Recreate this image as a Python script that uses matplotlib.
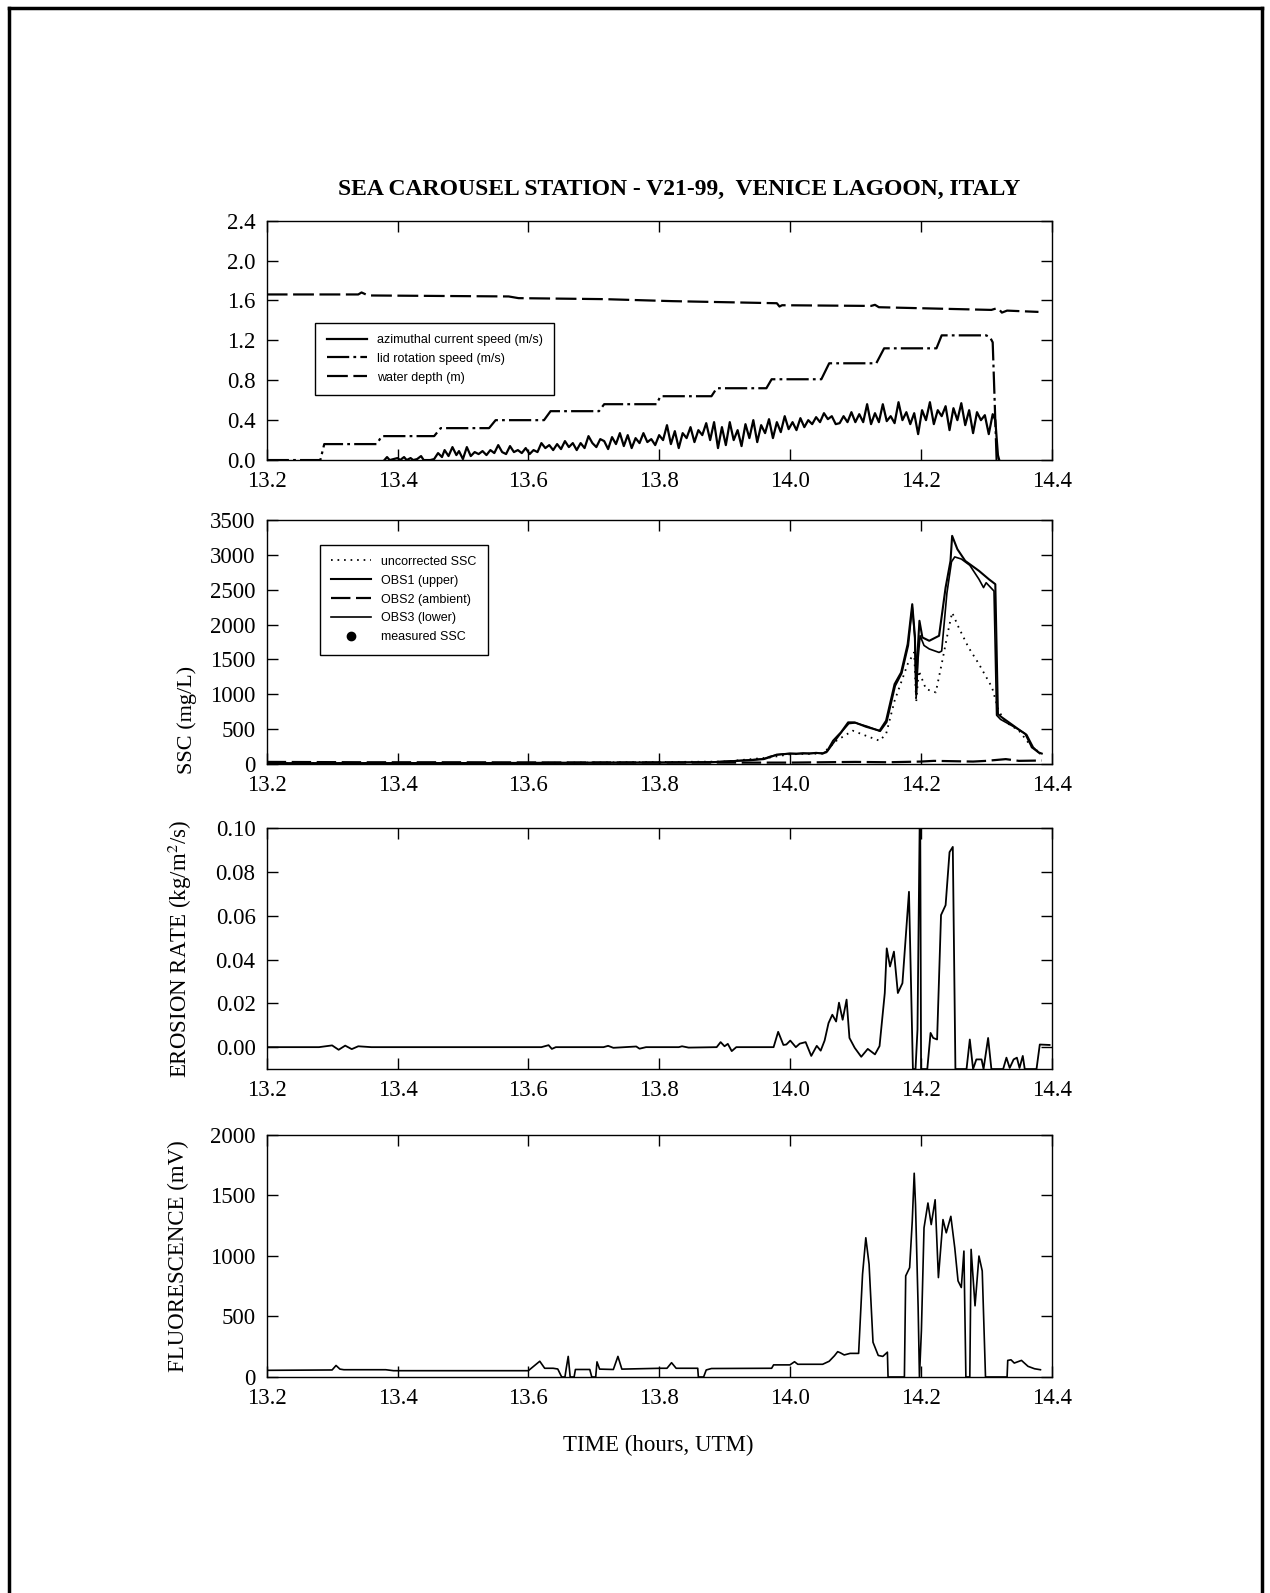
import matplotlib
matplotlib.use("Agg")
import matplotlib.pyplot as plt
from matplotlib.lines import Line2D
from matplotlib.ticker import FormatStrFormatter, MultipleLocator
import numpy as np

plt.rcParams['font.family'] = ['Liberation Serif', 'DejaVu Serif']
plt.rcParams['mathtext.fontset'] = 'stix'
plt.rcParams['lines.scale_dashes'] = False

# ---- panel 1: speeds and depth ----
t_depth = [13.20, 13.34, 13.345, 13.355, 13.57, 13.585, 13.716, 13.82, 13.98, 13.984,
           13.988, 14.124, 14.130, 14.136, 14.308, 14.318, 14.324, 14.332, 14.38]
water_depth = [1.66, 1.66, 1.68, 1.65, 1.64, 1.623, 1.613, 1.593, 1.572, 1.539,
               1.552, 1.545, 1.556, 1.532, 1.505, 1.525, 1.478, 1.498, 1.485]

t_lid = [13.20, 13.282, 13.288, 13.368, 13.376, 13.456, 13.466, 13.540, 13.550,
         13.624, 13.634, 13.708, 13.716, 13.796, 13.802, 13.880, 13.888, 13.964,
         13.972, 14.048, 14.060, 14.132, 14.144, 14.224, 14.232, 14.300, 14.306,
         14.310, 14.316, 14.322]
lid_speed = [0.0, 0.0, 0.16, 0.16, 0.24, 0.24, 0.32, 0.32, 0.40,
             0.40, 0.49, 0.49, 0.56, 0.56, 0.64, 0.64, 0.72, 0.72,
             0.81, 0.81, 0.97, 0.97, 1.12, 1.12, 1.25, 1.25, 1.23,
             1.18, 0.0, 0.0]

t_azim = [13.380, 13.384, 13.388, 13.394, 13.400, 13.404, 13.410, 13.414, 13.420, 13.424,
          13.430, 13.436, 13.440, 13.450, 13.456, 13.462, 13.468, 13.472, 13.478, 13.484,
          13.490, 13.494, 13.500, 13.506, 13.512, 13.518, 13.524, 13.530, 13.536, 13.542,
          13.548, 13.554, 13.560, 13.566, 13.572, 13.578, 13.584, 13.590, 13.596, 13.602,
          13.608, 13.614, 13.620, 13.626, 13.632, 13.638, 13.644, 13.650, 13.656, 13.662,
          13.668, 13.674, 13.680, 13.686, 13.692, 13.698, 13.704, 13.710, 13.716, 13.722,
          13.728, 13.734, 13.740, 13.746, 13.752, 13.758, 13.764, 13.770, 13.776, 13.782,
          13.788, 13.794, 13.800, 13.806, 13.812, 13.818, 13.824, 13.830, 13.836, 13.842,
          13.848, 13.854, 13.860, 13.866, 13.872, 13.878, 13.884, 13.890, 13.896, 13.902,
          13.908, 13.914, 13.920, 13.926, 13.932, 13.938, 13.944, 13.950, 13.956, 13.962,
          13.968, 13.974, 13.980, 13.986, 13.992, 13.998, 14.004, 14.010, 14.016, 14.022,
          14.028, 14.034, 14.040, 14.046, 14.052, 14.058, 14.064, 14.070, 14.076, 14.082,
          14.088, 14.094, 14.100, 14.106, 14.112, 14.118, 14.124, 14.130, 14.136, 14.142,
          14.148, 14.154, 14.160, 14.166, 14.172, 14.178, 14.184, 14.190, 14.196, 14.202,
          14.208, 14.214, 14.220, 14.226, 14.232, 14.238, 14.244, 14.250, 14.256, 14.262,
          14.268, 14.274, 14.280, 14.286, 14.292, 14.298, 14.304, 14.310, 14.314, 14.318,
          14.320]
azim_speed = [0.00, 0.03, 0.00, 0.01, 0.02, 0.00, 0.03, 0.00, 0.02, 0.00,
              0.01, 0.04, 0.00, 0.00, 0.01, 0.07, 0.03, 0.10, 0.04, 0.13,
              0.05, 0.09, 0.01, 0.13, 0.04, 0.08, 0.06, 0.09, 0.05, 0.10,
              0.07, 0.15, 0.08, 0.06, 0.14, 0.08, 0.10, 0.07, 0.12, 0.06,
              0.10, 0.08, 0.17, 0.12, 0.15, 0.10, 0.16, 0.11, 0.19, 0.13,
              0.17, 0.10, 0.17, 0.12, 0.24, 0.17, 0.13, 0.21, 0.19, 0.11,
              0.23, 0.16, 0.27, 0.14, 0.25, 0.12, 0.22, 0.17, 0.27, 0.18,
              0.21, 0.15, 0.25, 0.20, 0.35, 0.16, 0.29, 0.12, 0.27, 0.22,
              0.33, 0.18, 0.30, 0.25, 0.37, 0.20, 0.38, 0.12, 0.33, 0.15,
              0.38, 0.20, 0.30, 0.14, 0.36, 0.22, 0.40, 0.18, 0.35, 0.27,
              0.41, 0.22, 0.38, 0.28, 0.44, 0.31, 0.38, 0.30, 0.42, 0.33,
              0.40, 0.36, 0.43, 0.38, 0.47, 0.41, 0.44, 0.36, 0.37, 0.44,
              0.38, 0.48, 0.38, 0.46, 0.38, 0.56, 0.36, 0.47, 0.38, 0.56,
              0.39, 0.44, 0.37, 0.58, 0.40, 0.48, 0.36, 0.47, 0.26, 0.50,
              0.40, 0.58, 0.36, 0.50, 0.44, 0.54, 0.30, 0.52, 0.40, 0.57,
              0.35, 0.50, 0.27, 0.48, 0.40, 0.45, 0.26, 0.46, 0.40, 0.05,
              0.00]

# ---- panel 2: suspended sediment concentration ----
t_obs1 = [13.20, 13.40, 13.60, 13.80, 13.88, 13.90, 13.92, 13.94, 13.96, 13.97,
          13.98, 13.99, 14.00, 14.01, 14.02, 14.03, 14.04, 14.05, 14.056, 14.066,
          14.078, 14.089, 14.099, 14.116, 14.137, 14.147, 14.160, 14.170, 14.180, 14.187,
          14.191, 14.193, 14.195, 14.198, 14.2025, 14.213, 14.228, 14.238, 14.2455, 14.248,
          14.256, 14.268, 14.289, 14.304, 14.314, 14.318, 14.324, 14.349, 14.360, 14.370,
          14.380, 14.385]
ssc_obs1 = [10, 12, 15, 20, 25, 35, 45, 55, 70, 100,
            135, 140, 150, 145, 155, 150, 160, 150, 170, 334,
            454, 597, 597, 535, 478, 621, 1146, 1313, 1719, 2292,
            1839, 1003, 1576, 2054, 1815, 1767, 1839, 2531, 2913, 3272,
            3081, 2913, 2770, 2651, 2579, 716, 669, 501, 430, 239,
            167, 150]

t_obs3 = [13.20, 13.40, 13.60, 13.80, 13.88, 13.90, 13.92, 13.94, 13.96, 13.97,
          13.98, 13.99, 14.00, 14.02, 14.04, 14.05, 14.058, 14.068, 14.080, 14.090,
          14.100, 14.118, 14.138, 14.148, 14.161, 14.171, 14.181, 14.187, 14.191, 14.193,
          14.196, 14.199, 14.205, 14.213, 14.228, 14.232, 14.240, 14.247, 14.252, 14.262,
          14.275, 14.289, 14.296, 14.300, 14.312, 14.316, 14.322, 14.345, 14.362, 14.372,
          14.382]
ssc_obs3 = [12, 14, 18, 22, 28, 38, 48, 60, 75, 110,
            130, 145, 150, 150, 155, 155, 190, 320, 470, 580,
            590, 540, 470, 600, 1120, 1300, 1700, 2250, 1800, 950,
            1520, 1840, 1700, 1650, 1600, 1620, 2450, 2900, 2970, 2940,
            2850, 2650, 2530, 2600, 2480, 700, 640, 520, 420, 240,
            150]

t_obs2 = [13.20, 13.35, 13.50, 13.65, 13.80, 13.90, 14.00, 14.05, 14.10, 14.15,
          14.20, 14.22, 14.25, 14.28, 14.30, 14.33, 14.35, 14.385]
ssc_obs2 = [30, 25, 25, 22, 22, 20, 20, 25, 30, 25,
            35, 45, 40, 35, 45, 70, 45, 50]

t_uncorr = [13.20, 13.60, 13.90, 13.97, 14.00, 14.05, 14.071, 14.096, 14.116, 14.137,
            14.147, 14.160, 14.180, 14.190, 14.193, 14.197, 14.208, 14.223, 14.233, 14.243,
            14.248, 14.258, 14.273, 14.289, 14.309, 14.319, 14.330, 14.350, 14.370, 14.385]
ssc_uncorr = [10, 15, 35, 95, 140, 150, 334, 478, 406, 334,
              430, 907, 1433, 1600, 884, 1337, 1075, 1027, 1481, 1958,
              2173, 1958, 1672, 1433, 1098, 764, 600, 480, 240, 150]

t_measured = []
ssc_measured = []

# ---- panel 3: erosion rate ----
t_eros = [13.200, 13.280, 13.300, 13.310, 13.320, 13.330, 13.340, 13.360, 13.450, 13.550,
          13.620, 13.631, 13.636, 13.642, 13.715, 13.722, 13.730, 13.765, 13.770, 13.780,
          13.830, 13.835, 13.845, 13.888, 13.894, 13.900, 13.905, 13.911, 13.918, 13.975,
          13.982, 13.990, 13.9945, 14.0005, 14.009, 14.015, 14.024, 14.0326, 14.041, 14.047,
          14.053, 14.059, 14.0648, 14.0706, 14.075, 14.0806, 14.0866, 14.091, 14.099, 14.109,
          14.119, 14.130, 14.137, 14.145, 14.148, 14.153, 14.159, 14.165, 14.172, 14.182,
          14.188, 14.192, 14.195, 14.197, 14.199, 14.2005, 14.202, 14.210, 14.215, 14.219,
          14.225, 14.231, 14.238, 14.244, 14.249, 14.253, 14.270, 14.275, 14.280, 14.285,
          14.293, 14.296, 14.303, 14.308, 14.326, 14.331, 14.336, 14.342, 14.347, 14.351,
          14.356, 14.359, 14.377, 14.382, 14.397]
erosion = [0.0, 0.0, 0.0008, -0.0012, 0.0007, -0.0009, 0.0004, 0.0, 0.0, 0.0,
           0.0, 0.0009, -0.0008, 0.0, 0.0, 0.0006, -0.0003, 0.0003, -0.0007, 0.0,
           0.0, 0.0004, -0.0002, 0.0, 0.0023, 0.0004, 0.0015, -0.0018, 0.0, 0.0,
           0.0070, 0.0010, 0.0012, 0.0030, 0.0, 0.0016, 0.0023, -0.0040, 0.0006, -0.0016,
           0.0030, 0.0110, 0.0148, 0.0117, 0.0203, 0.0125, 0.0217, 0.0042, -0.0003, -0.0044,
           -0.0008, -0.0033, 0.0005, 0.0247, 0.0451, 0.0368, 0.0436, 0.0247, 0.0292, 0.0709,
           -0.0100, -0.0100, 0.0080, 0.0640, 0.1200, -0.0100, -0.0100, -0.0100, 0.0065, 0.0042,
           0.0035, 0.0603, 0.0648, 0.0890, 0.0914, -0.0100, -0.0100, 0.0035, -0.0100, -0.0056,
           -0.0056, -0.0100, 0.0042, -0.0100, -0.0100, -0.0048, -0.0095, -0.0056, -0.0048, -0.0095,
           -0.0040, -0.0100, -0.0100, 0.0012, 0.0010]

# ---- panel 4: fluorescence ----
t_fluor = [13.200, 13.300, 13.306, 13.312, 13.318, 13.382, 13.394, 13.600, 13.6175, 13.625,
           13.638, 13.645, 13.651, 13.656, 13.658, 13.661, 13.664, 13.670, 13.672, 13.694,
           13.697, 13.703, 13.705, 13.709, 13.730, 13.737, 13.743, 13.803, 13.812, 13.819,
           13.826, 13.859, 13.860, 13.868, 13.872, 13.880, 13.972, 13.975, 14.000, 14.007,
           14.012, 14.050, 14.060, 14.068, 14.073, 14.077, 14.083, 14.092, 14.105, 14.111,
           14.116, 14.121, 14.127, 14.135, 14.142, 14.149, 14.150, 14.175, 14.177, 14.183,
           14.187, 14.190, 14.192, 14.196, 14.198, 14.201, 14.205, 14.211, 14.216, 14.222,
           14.227, 14.234, 14.239, 14.246, 14.252, 14.257, 14.262, 14.266, 14.269, 14.275,
           14.277, 14.283, 14.289, 14.294, 14.299, 14.332, 14.333, 14.338, 14.343, 14.354,
           14.364, 14.374, 14.383]
fluorescence = [55, 58, 95, 65, 60, 60, 52, 52, 130, 72,
                72, 66, 0, 0, 72, 170, 0, 0, 62, 62,
                0, 0, 125, 65, 62, 170, 65, 72, 72, 118,
                72, 72, 0, 0, 58, 70, 72, 100, 100, 126,
                105, 105, 130, 175, 209, 200, 182, 195, 195, 848,
                1150, 931, 287, 178, 170, 205, 0, 0, 835, 903,
                1286, 1683, 1423, 575, 0, 383, 1232, 1437, 1259, 1464,
                821, 1300, 1191, 1327, 1067, 794, 739, 1040, 0, 0,
                1054, 588, 999, 876, 0, 0, 137, 142, 115, 137,
                88, 68, 60]

x_ticks = [13.2, 13.4, 13.6, 13.8, 14.0, 14.2, 14.4]

fig = plt.figure(figsize=(12.7, 15.93), dpi=100)

left, width = 0.210, 0.618
ax1 = fig.add_axes([left, 0.7112, width, 0.1503])
ax2 = fig.add_axes([left, 0.5204, width, 0.1532])
ax3 = fig.add_axes([left, 0.3289, width, 0.1513])
ax4 = fig.add_axes([left, 0.1356, width, 0.1520])

for ax in (ax1, ax2, ax3, ax4):
    ax.set_xlim(13.2, 14.4)
    ax.set_xticks(x_ticks)
    ax.xaxis.set_major_formatter(FormatStrFormatter('%.1f'))
    ax.tick_params(direction='in', top=True, right=True, length=8, width=1,
                   labelsize=16.5, pad=8)
    for sp in ax.spines.values():
        sp.set_linewidth(1.0)

legend_font = {'family': 'Liberation Sans', 'size': 9}

# speeds and depth
ax1.plot(t_azim, azim_speed, color='black', lw=1.6, label='azimuthal current speed (m/s)')
ax1.plot(t_lid, lid_speed, color='black', lw=1.6, dashes=(16, 3, 2, 3),
         label='lid rotation speed (m/s)')
ax1.plot(t_depth, water_depth, color='black', lw=1.6, dashes=(15, 4),
         label='water depth (m)')
ax1.set_ylim(0, 2.4)
ax1.yaxis.set_major_locator(MultipleLocator(0.4))
ax1.yaxis.set_major_formatter(FormatStrFormatter('%.1f'))
leg1 = ax1.legend(loc='upper left', bbox_to_anchor=(0.054, 0.60), fancybox=False,
                  edgecolor='black', framealpha=1, handlelength=3.2, labelspacing=0.55,
                  borderpad=0.9, prop=legend_font)
leg1.get_frame().set_linewidth(1.0)

# SSC
ax2.plot(t_uncorr, ssc_uncorr, color='black', lw=1.3, dashes=(1.2, 3.5),
         label='uncorrected SSC')
ax2.plot(t_obs1, ssc_obs1, color='black', lw=1.5, label='OBS1 (upper)')
ax2.plot(t_obs2, ssc_obs2, color='black', lw=1.6, dashes=(14, 4), label='OBS2 (ambient)')
ax2.plot(t_obs3, ssc_obs3, color='black', lw=1.2, label='OBS3 (lower)')
ax2.plot(t_measured, ssc_measured, 'o', color='black', ms=6, label='measured SSC')
ax2.set_ylim(0, 3500)
ax2.yaxis.set_major_locator(MultipleLocator(500))
ax2.set_ylabel('SSC (mg/L)', fontsize=16)
ax2.yaxis.set_label_coords(-0.089, 0.18)
leg2 = ax2.legend(loc='upper left', bbox_to_anchor=(0.060, 0.925), fancybox=False,
                  edgecolor='black', framealpha=1, handlelength=3.2, labelspacing=0.55,
                  borderpad=0.9, prop=legend_font)
leg2.get_frame().set_linewidth(1.0)

# erosion rate
ax3.plot(t_eros, erosion, color='black', lw=1.3)
ax3.set_ylim(-0.01, 0.10)
ax3.set_yticks([0.0, 0.02, 0.04, 0.06, 0.08, 0.10])
ax3.yaxis.set_major_formatter(FormatStrFormatter('%.2f'))
ax3.set_ylabel('EROSION RATE (kg/m$^2$/s)', fontsize=16.5)
ax3.yaxis.set_label_coords(-0.093, 0.5)

# fluorescence
ax4.plot(t_fluor, fluorescence, color='black', lw=1.2)
ax4.set_ylim(0, 2000)
ax4.yaxis.set_major_locator(MultipleLocator(500))
ax4.set_ylabel('FLUORESCENCE (mV)', fontsize=16.5)
ax4.yaxis.set_label_coords(-0.099, 0.5)

fig.text(0.535, 0.881, 'SEA CAROUSEL STATION - V21-99,  VENICE LAGOON, ITALY',
         ha='center', va='center', fontsize=17, fontweight='bold')
fig.text(0.518, 0.0929, 'TIME (hours, UTM)', ha='center', va='center', fontsize=16.5)

# page frame
fig.add_artist(Line2D([0.007, 0.007], [0.0, 0.995], transform=fig.transFigure,
                      color='black', lw=2.5))
fig.add_artist(Line2D([0.007, 0.9937], [0.995, 0.995], transform=fig.transFigure,
                      color='black', lw=2.5))
fig.add_artist(Line2D([0.9937, 0.9937], [0.0, 0.995], transform=fig.transFigure,
                      color='black', lw=2.5))

fig.savefig('out.png', dpi=100)
